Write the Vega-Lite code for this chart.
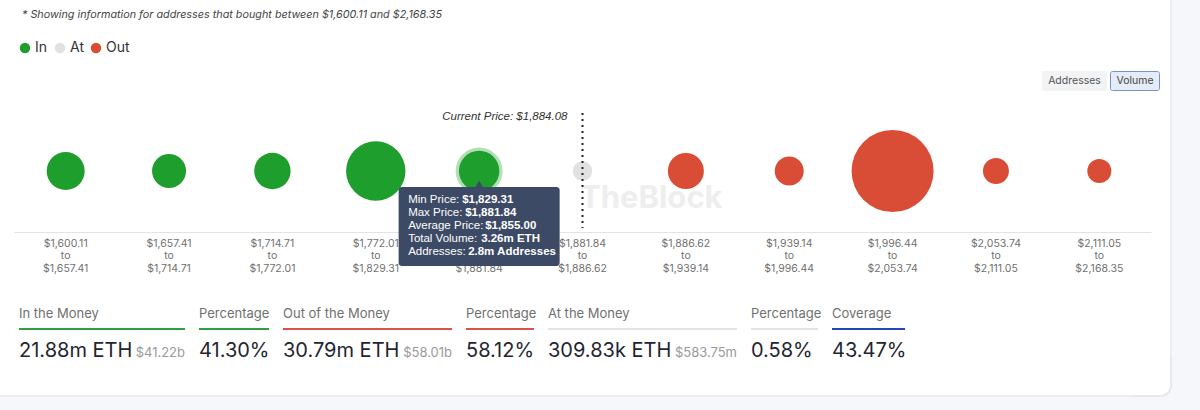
{
  "$schema": "https://vega.github.io/schema/vega-lite/v6.json",
  "width": 1200,
  "height": 410,
  "autosize": {"type": "fit", "contains": "padding"},
  "padding": 0,
  "background": "#ffffff",
  "config": {"view": {"stroke": null}, "font": "Inter"},
  "datasets": {
    "buckets": [
      {"bucket": "$1,600.11 to $1,657.41", "status": "In", "volume": 2.82},
      {"bucket": "$1,657.41 to $1,714.71", "status": "In", "volume": 2.14},
      {"bucket": "$1,714.71 to $1,772.01", "status": "In", "volume": 2.54},
      {"bucket": "$1,772.01 to $1,829.31", "status": "In", "volume": 7.73},
      {"bucket": "$1,829.31 to $1,881.84", "status": "In", "volume": 3.26},
      {"bucket": "$1,881.84 to $1,886.62", "status": "At", "volume": 0.31},
      {"bucket": "$1,886.62 to $1,939.14", "status": "Out", "volume": 2.47},
      {"bucket": "$1,939.14 to $1,996.44", "status": "Out", "volume": 1.39},
      {"bucket": "$1,996.44 to $2,053.74", "status": "Out", "volume": 15.27},
      {"bucket": "$2,053.74 to $2,111.05", "status": "Out", "volume": 1.0},
      {"bucket": "$2,111.05 to $2,168.35", "status": "Out", "volume": 0.77}
    ],
    "stats": [
      {"col": 0, "colEnd": 1, "key": "In the Money", "value": "21.88m ETH", "sub": "$41.22b", "group": "In"},
      {"col": 1, "colEnd": 2, "key": "Percentage", "value": "41.30%", "sub": "", "group": "In"},
      {"col": 2, "colEnd": 3, "key": "Out of the Money", "value": "30.79m ETH", "sub": "$58.01b", "group": "Out"},
      {"col": 3, "colEnd": 4, "key": "Percentage", "value": "58.12%", "sub": "", "group": "Out"},
      {"col": 4, "colEnd": 5, "key": "At the Money", "value": "309.83k ETH", "sub": "$583.75m", "group": "At"},
      {"col": 5, "colEnd": 6, "key": "Percentage", "value": "0.58%", "sub": "", "group": "At"},
      {"col": 6, "colEnd": 7, "key": "Coverage", "value": "43.47%", "sub": "", "group": "Coverage"}
    ]
  },
  "resolve": {"scale": {"x": "independent"}},
  "layer": [
    {
      "data": {"values": [{}]},
      "mark": {"type": "rect", "fill": "#f6f7fa"},
      "encoding": {"x": {"value": 1170}, "x2": {"value": 1200}, "y": {"value": 0}, "y2": {"value": 410}}
    },
    {
      "data": {"values": [{}]},
      "mark": {"type": "rect", "fill": "#f6f7fa"},
      "encoding": {"x": {"value": 0}, "x2": {"value": 1200}, "y": {"value": 395}, "y2": {"value": 410}}
    },
    {
      "data": {"values": [{}]},
      "mark": {"type": "rect", "fill": "#f6f7fa"},
      "encoding": {"x": {"value": 1150}, "x2": {"value": 1170}, "y": {"value": 375}, "y2": {"value": 395}}
    },
    {
      "data": {"values": [{}]},
      "mark": {"type": "rect", "fill": "#e8e9ef", "cornerRadiusBottomRight": 11},
      "encoding": {"x": {"value": 1130}, "x2": {"value": 1172}, "y": {"value": 355}, "y2": {"value": 397}}
    },
    {
      "data": {"values": [{}]},
      "mark": {"type": "rect", "fill": "#ffffff", "cornerRadiusBottomRight": 10},
      "encoding": {"x": {"value": 1128}, "x2": {"value": 1170}, "y": {"value": 353}, "y2": {"value": 395}}
    },
    {
      "data": {"values": [{}]},
      "mark": {"type": "rect", "fill": "#ecedf1"},
      "encoding": {"x": {"value": 1170}, "x2": {"value": 1172}, "y": {"value": 0}, "y2": {"value": 356}}
    },
    {
      "data": {"values": [{}]},
      "mark": {"type": "rect", "fill": "#ecedf1"},
      "encoding": {"x": {"value": 0}, "x2": {"value": 1131}, "y": {"value": 395}, "y2": {"value": 397}}
    },
    {
      "data": {"values": [{}]},
      "mark": {"type": "text", "align": "left", "baseline": "middle", "font": "Inter", "fontSize": 31, "fontWeight": "bold", "color": "#eeeeee"},
      "encoding": {"x": {"value": 580}, "y": {"value": 199}, "text": {"value": "TheBlock"}}
    },
    {
      "data": {"values": [{}]},
      "mark": {"type": "text", "align": "left", "baseline": "middle", "font": "Inter", "fontSize": 10.8, "fontStyle": "italic", "color": "#444444"},
      "encoding": {"x": {"value": 22}, "y": {"value": 15}, "text": {"value": "* Showing information for addresses that bought between $1,600.11 and $2,168.35"}}
    },
    {
      "data": {"values": [{}]},
      "mark": {"type": "rect", "fill": "#f2f3f5", "cornerRadius": 2},
      "encoding": {"x": {"value": 1042}, "x2": {"value": 1107}, "y": {"value": 71}, "y2": {"value": 91}}
    },
    {
      "data": {"values": [{}]},
      "mark": {"type": "rect", "fill": "#e5ecf7", "stroke": "#7593d4", "strokeWidth": 1, "cornerRadius": 2},
      "encoding": {"x": {"value": 1110.5}, "x2": {"value": 1159.5}, "y": {"value": 71.5}, "y2": {"value": 90.5}}
    },
    {
      "data": {"values": [{}]},
      "mark": {"type": "text", "align": "center", "baseline": "middle", "font": "Inter", "fontSize": 10.5, "color": "#555555"},
      "encoding": {"x": {"value": 1074.5}, "y": {"value": 81}, "text": {"value": "Addresses"}}
    },
    {
      "data": {"values": [{}]},
      "mark": {"type": "text", "align": "center", "baseline": "middle", "font": "Inter", "fontSize": 10.5, "color": "#444444"},
      "encoding": {"x": {"value": 1135}, "y": {"value": 81}, "text": {"value": "Volume"}}
    },
    {
      "data": {"name": "buckets"},
      "layer": [
        {
          "transform": [{"filter": "datum.bucket === '$1,829.31 to $1,881.84'"}],
          "mark": {"type": "point", "shape": "circle", "filled": false, "stroke": "#a3dba8", "strokeWidth": 6.5, "opacity": 0.85},
          "encoding": {
            "x": {"field": "bucket", "type": "nominal", "sort": null},
            "y": {"value": 171},
            "size": {"field": "volume", "type": "quantitative", "scale": {"domain": [0, 16], "range": [250, 7034]}, "legend": null}
          }
        },
        {
          "mark": {"type": "circle", "opacity": 1},
          "encoding": {
            "x": {
              "field": "bucket", "type": "nominal", "sort": null,
              "scale": {
                "type": "band", "range": [14, 1151], "paddingInner": 0, "paddingOuter": 0,
                "domain": ["$1,600.11 to $1,657.41", "$1,657.41 to $1,714.71", "$1,714.71 to $1,772.01", "$1,772.01 to $1,829.31", "$1,829.31 to $1,881.84", "$1,881.84 to $1,886.62", "$1,886.62 to $1,939.14", "$1,939.14 to $1,996.44", "$1,996.44 to $2,053.74", "$2,053.74 to $2,111.05", "$2,111.05 to $2,168.35"]
              },
              "axis": {
                "orient": "bottom", "offset": -178, "title": null, "ticks": false,
                "domainColor": "#dfe3ea", "domainWidth": 1,
                "labelFont": "Inter", "labelFontSize": 10.5, "labelColor": "#707070",
                "labelLineHeight": 12.5, "labelPadding": 6, "labelOverlap": false, "labelBound": false,
                "labelAngle": 0, "labelAlign": "center", "labelBaseline": "top",
                "labelExpr": "[split(datum.value, ' to ')[0], 'to', split(datum.value, ' to ')[1]]"
              }
            },
            "y": {"value": 171},
            "size": {"field": "volume", "type": "quantitative", "scale": {"domain": [0, 16], "range": [250, 7034]}, "legend": null},
            "color": {
              "field": "status", "type": "nominal",
              "scale": {"domain": ["In", "At", "Out"], "range": ["#1e9e2c", "#e1e1e1", "#d94d37"]},
              "legend": {
                "orient": "none", "legendX": 18, "legendY": 41, "direction": "horizontal", "title": null,
                "symbolType": "circle", "symbolSize": 110, "symbolStrokeWidth": 0, "symbolOpacity": 1,
                "labelFont": "Inter", "labelFontSize": 14, "labelColor": "#333333", "labelOffset": 3, "columnPadding": 5
              }
            }
          }
        },
        {
          "data": {"values": [{}]},
          "mark": {"type": "rule", "strokeDash": [2, 4], "strokeWidth": 2, "color": "#222222"},
          "encoding": {"x": {"datum": "$1,881.84 to $1,886.62", "type": "nominal"}, "y": {"value": 113}, "y2": {"value": 228}}
        },
        {
          "data": {"values": [{}]},
          "mark": {"type": "text", "align": "right", "baseline": "middle", "font": "Liberation Sans", "fontStyle": "italic", "fontSize": 11.5, "color": "#333333", "dx": -15},
          "encoding": {"x": {"datum": "$1,881.84 to $1,886.62", "type": "nominal"}, "y": {"value": 117}, "text": {"value": "Current Price: $1,884.08"}}
        },
        {
          "data": {"values": [{}]},
          "mark": {"type": "bar", "width": 161, "color": "#3c4a65", "cornerRadius": 3},
          "encoding": {"x": {"datum": "$1,829.31 to $1,881.84", "type": "nominal"}, "y": {"value": 187}, "y2": {"value": 266}}
        },
        {
          "data": {"values": [{}]},
          "mark": {"type": "point", "shape": "triangle-up", "filled": true, "color": "#3c4a65", "opacity": 1, "size": 60},
          "encoding": {"x": {"datum": "$1,829.31 to $1,881.84", "type": "nominal"}, "y": {"value": 184}}
        },
        {
          "data": {"values": [{}]},
          "mark": {"type": "text", "align": "left", "baseline": "middle", "font": "Liberation Sans", "fontSize": 11.5, "color": "#ffffff", "dx": -71},
          "encoding": {"x": {"datum": "$1,829.31 to $1,881.84", "type": "nominal"}, "y": {"value": 200}, "text": {"value": "Min Price:"}}
        },
        {
          "data": {"values": [{}]},
          "mark": {"type": "text", "align": "left", "baseline": "middle", "font": "Liberation Sans", "fontSize": 11.5, "color": "#ffffff", "dx": -71},
          "encoding": {"x": {"datum": "$1,829.31 to $1,881.84", "type": "nominal"}, "y": {"value": 213}, "text": {"value": "Max Price:"}}
        },
        {
          "data": {"values": [{}]},
          "mark": {"type": "text", "align": "left", "baseline": "middle", "font": "Liberation Sans", "fontSize": 11.5, "color": "#ffffff", "dx": -71},
          "encoding": {"x": {"datum": "$1,829.31 to $1,881.84", "type": "nominal"}, "y": {"value": 226}, "text": {"value": "Average Price:"}}
        },
        {
          "data": {"values": [{}]},
          "mark": {"type": "text", "align": "left", "baseline": "middle", "font": "Liberation Sans", "fontSize": 11.5, "color": "#ffffff", "dx": -71},
          "encoding": {"x": {"datum": "$1,829.31 to $1,881.84", "type": "nominal"}, "y": {"value": 239}, "text": {"value": "Total Volume:"}}
        },
        {
          "data": {"values": [{}]},
          "mark": {"type": "text", "align": "left", "baseline": "middle", "font": "Liberation Sans", "fontSize": 11.5, "color": "#ffffff", "dx": -71},
          "encoding": {"x": {"datum": "$1,829.31 to $1,881.84", "type": "nominal"}, "y": {"value": 252}, "text": {"value": "Addresses:"}}
        },
        {
          "data": {"values": [{}]},
          "mark": {"type": "text", "align": "left", "baseline": "middle", "font": "Liberation Sans", "fontSize": 11.5, "fontWeight": "bold", "color": "#ffffff", "dx": -17},
          "encoding": {"x": {"datum": "$1,829.31 to $1,881.84", "type": "nominal"}, "y": {"value": 200}, "text": {"value": "$1,829.31"}}
        },
        {
          "data": {"values": [{}]},
          "mark": {"type": "text", "align": "left", "baseline": "middle", "font": "Liberation Sans", "fontSize": 11.5, "fontWeight": "bold", "color": "#ffffff", "dx": -14},
          "encoding": {"x": {"datum": "$1,829.31 to $1,881.84", "type": "nominal"}, "y": {"value": 213}, "text": {"value": "$1,881.84"}}
        },
        {
          "data": {"values": [{}]},
          "mark": {"type": "text", "align": "left", "baseline": "middle", "font": "Liberation Sans", "fontSize": 11.5, "fontWeight": "bold", "color": "#ffffff", "dx": 6},
          "encoding": {"x": {"datum": "$1,829.31 to $1,881.84", "type": "nominal"}, "y": {"value": 226}, "text": {"value": "$1,855.00"}}
        },
        {
          "data": {"values": [{}]},
          "mark": {"type": "text", "align": "left", "baseline": "middle", "font": "Liberation Sans", "fontSize": 11.5, "fontWeight": "bold", "color": "#ffffff", "dx": 2},
          "encoding": {"x": {"datum": "$1,829.31 to $1,881.84", "type": "nominal"}, "y": {"value": 239}, "text": {"value": "3.26m ETH"}}
        },
        {
          "data": {"values": [{}]},
          "mark": {"type": "text", "align": "left", "baseline": "middle", "font": "Liberation Sans", "fontSize": 11.5, "fontWeight": "bold", "color": "#ffffff", "dx": -11},
          "encoding": {"x": {"datum": "$1,829.31 to $1,881.84", "type": "nominal"}, "y": {"value": 252}, "text": {"value": "2.8m Addresses"}}
        }
      ]
    },
    {
      "data": {"name": "stats"},
      "layer": [
        {
          "mark": {"type": "text", "align": "left", "baseline": "middle", "font": "Inter", "fontSize": 13, "color": "#707070"},
          "encoding": {
            "x": {"field": "col", "type": "quantitative", "scale": {"domain": [0, 1, 2, 3, 4, 5, 6, 7], "range": [19, 199, 283, 466, 548, 751, 832, 919], "zero": false, "nice": false}, "axis": null},
            "y": {"value": 314},
            "text": {"field": "key"}
          }
        },
        {
          "mark": {"type": "rule", "strokeWidth": 2, "x2Offset": -14},
          "encoding": {
            "x": {"field": "col", "type": "quantitative"},
            "x2": {"field": "colEnd"},
            "y": {"value": 329},
            "stroke": {"field": "group", "type": "nominal", "scale": {"domain": ["In", "Out", "At", "Coverage"], "range": ["#2f9e44", "#d9534a", "#e2e2e2", "#2745b5"]}, "legend": null}
          }
        },
        {
          "mark": {"type": "text", "align": "left", "baseline": "alphabetic", "font": "Inter", "fontSize": 20, "color": "#1f2630"},
          "encoding": {"x": {"field": "col", "type": "quantitative"}, "y": {"value": 357}, "text": {"field": "value"}}
        },
        {
          "mark": {"type": "text", "align": "right", "baseline": "alphabetic", "font": "Inter", "fontSize": 13, "color": "#9a9a9a", "dx": -14},
          "encoding": {"x": {"field": "colEnd", "type": "quantitative"}, "y": {"value": 357}, "text": {"field": "sub"}}
        }
      ]
    }
  ]
}
